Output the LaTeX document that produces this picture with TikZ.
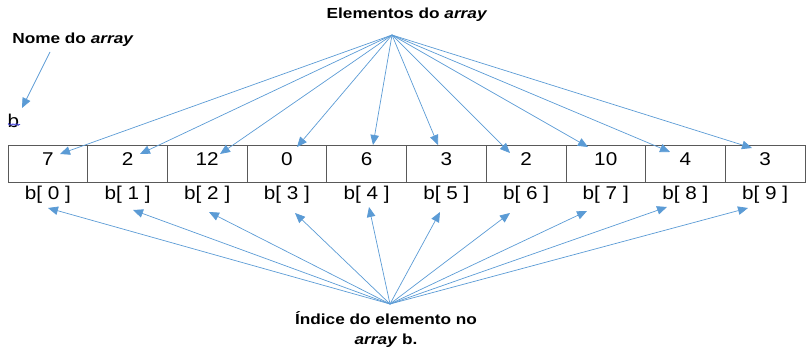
\documentclass[tikz,border=0pt]{standalone}
\usepackage{fontspec}
\setmainfont{Liberation Sans}[FakeStretch=1.12]
\newfontfamily\boldlbl{Liberation Sans}[FakeStretch=1.18]
\usetikzlibrary{arrows.meta,decorations.pathmorphing}
\definecolor{arrowblue}{HTML}{5B9BD5}
\definecolor{boxgray}{HTML}{595959}
\definecolor{spellblue}{HTML}{4B4BE0}
\begin{document}
\begin{tikzpicture}[x=1pt,y=-1pt,
  conn/.style={draw=arrowblue, line width=0.7pt, -{Triangle[length=10pt,width=8.5pt,fill=arrowblue]}},
  cell/.style={draw=boxgray, line width=0.8pt, minimum width=79.7pt, minimum height=37pt,
    inner sep=0pt, text height=13pt, text depth=8pt, font=\fontsize{18.5}{20}\selectfont},
  idx/.style={inner sep=0pt, anchor=base, font=\fontsize{18.5}{20}\selectfont},
  title/.style={inner sep=0pt, font=\boldlbl\bfseries\fontsize{14.6}{19.5}\selectfont}]
\useasboundingbox (0,0) rectangle (806,350);
% titles
\node[title, anchor=base] (elem) at (407,18.5) {Elementos do \textit{array}};
\node[title, anchor=base] (nome) at (73,44) {Nome do \textit{array}};
\node[idx] (bname) at (13.5,128) {b};
\draw[spellblue, line width=0.6pt, decorate, decoration={zigzag, segment length=2.2pt, amplitude=0.8pt}]
  ([xshift=-5.5pt,yshift=3.5pt]bname.base) -- ([xshift=6.5pt,yshift=3.5pt]bname.base);
\node[title, align=center, anchor=north] (indice) at (386,311.5) {Índice do elemento no\\\textit{array} b.};
% array cells
\foreach \v [count=\i from 0] in {7,2,12,0,6,3,2,10,4,3} {
  \node[cell] (c\i) at ({47.85+79.7*\i},163.5) {\v};
  \node[idx] (l\i) at ({47.85+79.7*\i},200) {b[ \i\ ]};
}
% source points
\coordinate (top) at (392,35);
\coordinate (bot) at (390,304);
\coordinate (nomefoot) at (50,52);
\coordinate (nometip) at (22,108);
% top tips
\coordinate (t0) at (60,154);
\coordinate (t1) at (140,154);
\coordinate (t2) at (220,154);
\coordinate (t3) at (297,147);
\coordinate (t4) at (373,145);
\coordinate (t5) at (438,145);
\coordinate (t6) at (510,153);
\coordinate (t7) at (588,147);
\coordinate (t8) at (670,152);
\coordinate (t9) at (752,148);
% bottom tips
\coordinate (b0) at (48,208);
\coordinate (b1) at (133,210);
\coordinate (b2) at (209,212);
\coordinate (b3) at (295,213);
\coordinate (b4) at (369,207);
\coordinate (b5) at (440,212);
\coordinate (b6) at (510,213);
\coordinate (b7) at (587,211);
\coordinate (b8) at (667,207);
\coordinate (b9) at (748,208);
\foreach \i in {0,...,9} {
  \draw[conn] (top) -- (t\i);
  \draw[conn] (bot) -- (b\i);
}
\draw[conn] (nomefoot) -- (nometip);
\end{tikzpicture}
\end{document}
